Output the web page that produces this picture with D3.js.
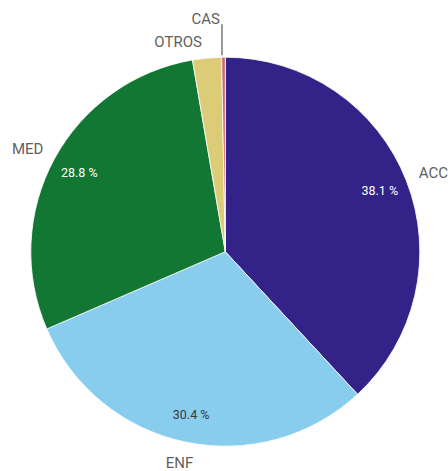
<!DOCTYPE html>
<html>
<head>
<meta charset="utf-8">
<script src="https://cdn.jsdelivr.net/npm/d3@7"></script>
<style>
  body { margin: 0; background: #fff; }
  svg { display: block; font-family: Roboto, "Open Sans", sans-serif; }
</style>
</head>
<body>
<div id="container"></div>
<script>
const categories = ["ACC", "ENF", "MED", "OTROS", "CAS"]
const values = [38.1, 30.4, 28.8, 2.4, 0.3]
const colors = ["#332288", "#88CCEE", "#117733", "#DDCC77", "#CC6677"]
const pctColors = ["#ffffff", "#3a3a3a", "#ffffff", "#3a3a3a", "#3a3a3a"]

const width = 448
const height = 471
const cx = 225.3
const cy = 251.7
const radius = 194.5

const data = categories.map((c, i) => ({ name: c, value: values[i] }))

const svg = d3.select('#container').append('svg')
  .attr('width', width)
  .attr('height', height)

const g = svg.append('g').attr('transform', `translate(${cx},${cy})`)

const pie = d3.pie().sort(null).value(d => d.value)
const arcs = pie(data)

const arc = d3.arc().innerRadius(0).outerRadius(radius)
const pctArc = d3.arc().innerRadius(166).outerRadius(166)

g.selectAll('path')
  .data(arcs)
  .enter()
  .append('path')
  .attr('d', arc)
  .attr('fill', (d, i) => colors[i])
  .attr('stroke', '#fff')
  .attr('stroke-width', 0.8)

// percentages inside the big slices
g.selectAll('text.pct')
  .data(arcs.filter(d => d.value >= 5))
  .enter()
  .append('text')
  .attr('class', 'pct')
  .attr('transform', d => `translate(${pctArc.centroid(d)})`)
  .attr('text-anchor', 'middle')
  .attr('dy', '0.35em')
  .attr('font-size', 12.5)
  .attr('fill', d => pctColors[d.index])
  .text(d => d.value.toFixed(1) + ' %')

// CAS: tiny slice, label on a leader line
const tiny = arcs.filter(d => d.value < 1)
const leaderX = tiny.length ? radius * Math.sin((tiny[0].startAngle + tiny[0].endAngle) / 2) - 1.5 : 0
tiny.forEach(d => {
  g.append('line')
    .attr('x1', leaderX).attr('x2', leaderX)
    .attr('y1', -radius - 2).attr('y2', -radius - 33)
    .attr('stroke', '#777').attr('stroke-width', 1.5)
  g.append('text')
    .attr('x', leaderX - 2)
    .attr('y', -radius - 33)
    .attr('text-anchor', 'end')
    .attr('font-size', 15)
    .attr('fill', '#5f5f5f')
    .text(d.data.name)
})

// outside labels
const labelR = 209
arcs.filter(d => d.value >= 1).forEach(d => {
  const a = (d.startAngle + d.endAngle) / 2
  const px = labelR * Math.sin(a)
  const py = -labelR * Math.cos(a)
  const t = g.append('text')
    .attr('font-size', 15)
    .attr('fill', '#5f5f5f')
    .text(d.data.name)
  const bb = t.node().getBBox()
  const w = bb.width
  const h = 13
  let left = px - w * (1 - Math.sin(a)) / 2
  let top = py - h * (1 + Math.cos(a)) / 2
  // keep clear of the leader line
  if (tiny.length && top < -radius + 20 && left + w > leaderX - 20 && left < leaderX) {
    left = leaderX - 20 - w
    top += 4
  }
  t.attr('x', left).attr('y', top + h / 2).attr('dy', '0.36em')
})
</script>
</body>
</html>
